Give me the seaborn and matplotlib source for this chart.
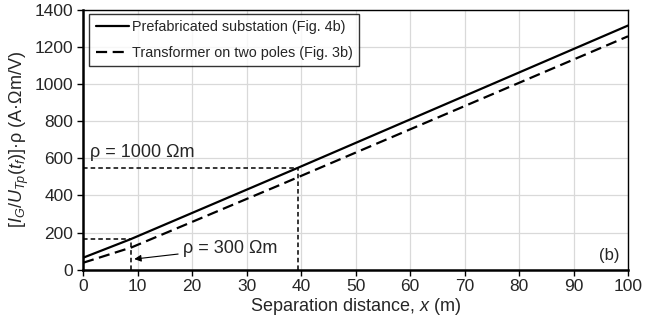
import matplotlib
matplotlib.use("Agg")
import matplotlib.pyplot as plt
import seaborn as sns
import pandas as pd

# ---- data ----
x_solid = [0, 8.8, 39.5, 100]
y_solid = [64, 165, 550, 1316]
x_dash = [0, 8.9, 36.0, 100]
y_dash = [37, 120, 455, 1258]
series_names = ["Prefabricated substation (Fig. 4b)", "Transformer on two poles (Fig. 3b)"]

ref_x = [8.8, 39.5]          # separation distances for rho = 300 and 1000 Ohm m
ref_y = [165, 550]
xticks = list(range(0, 101, 10))
yticks = list(range(0, 1401, 200))

sns.set_theme(style="white")
plt.rcParams["font.family"] = ["Liberation Sans", "DejaVu Sans"]
plt.rcParams["mathtext.fontset"] = "custom"
plt.rcParams["mathtext.rm"] = "Liberation Sans"
plt.rcParams["mathtext.it"] = "Liberation Sans:italic"
plt.rcParams["mathtext.bf"] = "Liberation Sans:bold"

df = pd.concat([
    pd.DataFrame({"x": x_solid, "y": y_solid, "s": series_names[0]}),
    pd.DataFrame({"x": x_dash, "y": y_dash, "s": series_names[1]}),
])

fig = plt.figure(figsize=(6.59, 3.21), dpi=100)
ax = fig.add_axes([0.126, 0.160, 0.827, 0.809])

sns.lineplot(data=df, x="x", y="y", hue="s", style="s",
             palette=["black", "black"],
             dashes={series_names[0]: "", series_names[1]: (5, 2.5)},
             linewidth=1.6, ax=ax, legend=True)

# reference dashed guide lines
for rx, ry in zip(ref_x, ref_y):
    ax.plot([0, rx], [ry, ry], color="black", lw=1.1, ls=(0, (3, 2)))
    ax.plot([rx, rx], [0, ry], color="black", lw=1.1, ls=(0, (3, 2)))

ax.set_xlim(0, 100)
ax.set_ylim(0, 1400)
ax.set_xticks(xticks)
ax.set_yticks(yticks)
ax.grid(True, color="#d9d9d9", lw=0.9)
ax.set_axisbelow(True)
ax.tick_params(axis="both", labelsize=12.5, direction="out", length=4, width=1,
               color="black", pad=3, left=True, bottom=True)
for side in ["left", "bottom"]:
    ax.spines[side].set_linewidth(1.8)
    ax.spines[side].set_color("black")
for side in ["top", "right"]:
    ax.spines[side].set_linewidth(1.0)
    ax.spines[side].set_color("black")

ax.set_xlabel("Separation distance, $x$ (m)", fontsize=13, labelpad=1)
ax.set_ylabel(r"$[I_G/U_{Tp}(t_f)]$·ρ (A·Ωm/V)", fontsize=13, labelpad=3)

leg = ax.legend(loc="upper left", bbox_to_anchor=(0.011, 0.986), fontsize=10.4,
                frameon=True, fancybox=False, edgecolor="black",
                handlelength=2.35, handletextpad=0.15, borderpad=0.45,
                labelspacing=0.8, title=None, borderaxespad=0)
leg.get_frame().set_linewidth(1.0)

ax.text(1.3, 634, "ρ = 1000 Ωm", fontsize=13, va="center", ha="left")
ax.annotate("ρ = 300 Ωm", xy=(9.4, 57), xytext=(18.3, 116), fontsize=13,
            va="center", ha="left",
            arrowprops=dict(arrowstyle="-|>", color="black", lw=0.8,
                            shrinkA=1, shrinkB=0, mutation_scale=10))
ax.text(98.5, 75, "(b)", fontsize=12, ha="right", va="center")

fig.savefig("out.png", dpi=100)
